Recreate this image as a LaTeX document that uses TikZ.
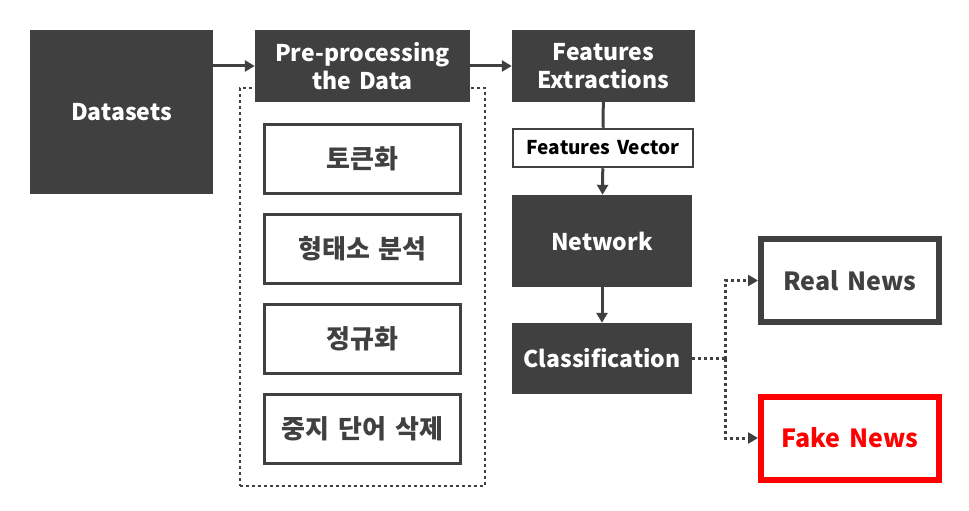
\documentclass[tikz,border=0pt]{standalone}
\usepackage{fontspec}
\setmainfont{Noto Sans CJK KR}[WordSpace=1.5]
\usetikzlibrary{positioning,arrows.meta}
\definecolor{darkgray}{HTML}{404040}
\definecolor{alertred}{HTML}{FF0000}
\begin{document}
\begin{tikzpicture}[
  x=1pt, y=-1pt,
  node distance=18pt,
  darkbox/.style={rectangle, fill=darkgray, text=white, align=center, inner sep=0pt, font=\fontsize{23}{28}\selectfont\bfseries},
  box/.style={rectangle, draw=darkgray, line width=3pt, fill=white, text=darkgray, minimum width=196pt, minimum height=69pt, font=\fontsize{26}{30}\selectfont\bfseries},
  resultbox/.style={rectangle, draw=darkgray, line width=6pt, text=darkgray, minimum width=178pt, minimum height=83pt, font=\fontsize{25}{30}\selectfont\bfseries},
  group/.style={rectangle, draw=darkgray, line width=2.5pt, dash pattern=on 3pt off 3pt},
  arrow/.style={-{Triangle[length=10pt,width=11pt]}, line width=3pt, draw=darkgray},
  dotarrow/.style={arrow, dash pattern=on 3pt off 3pt}
]
  \useasboundingbox (0,0) rectangle (969,511);

  % Prétraitement (cadre)
  \node[group, minimum width=245pt, minimum height=398pt] (prebox) at (362.5,287) {};

  % Données
  \node[darkbox, minimum width=183pt, minimum height=164pt] (data) at (121.5,112) {Datasets};
  \node[darkbox, minimum width=215pt, minimum height=72pt] (pre) at (362.5,66) {Pre-processing\\the Data};
  \node[darkbox, minimum width=183pt, minimum height=72pt] (feat) at (603.5,66) {Features\\Extractions};

  % Étapes
  \node[box] (tok) at (362.5,159) {토큰화};
  \node[box, below=of tok] (morph) {형태소 분석};
  \node[box, below=of morph] (norm) {정규화};
  \node[box, below=of norm] (stop) {중지 단어 삭제};

  % Vecteur
  \node[rectangle, draw=darkgray, line width=2.5pt, minimum width=180pt, minimum height=38pt, inner sep=0pt, font=\fontsize{19}{22}\selectfont\bfseries] (vec) at (603,148) {Features Vector};

  % Réseau
  \node[darkbox, minimum width=180pt, minimum height=92pt] (net) at (602,241) {Network};
  \node[darkbox, minimum width=180pt, minimum height=71pt] (class) at (602,358.5) {Classification};

  % Sortie
  \node[resultbox] (real) at (850,280.5) {Real News};
  \node[resultbox, draw=alertred, text=alertred] (fake) at (850,438) {Fake News};
  \coordinate (split) at (725,358.5);

  % Flèches
  \draw[arrow] (data.east |- pre) -- (pre);
  \draw[arrow] (pre) -- (feat);
  \draw[line width=3pt, draw=darkgray] (feat) -- (vec);
  \draw[arrow] (vec) -- (net);
  \draw[arrow] (net) -- (class);
  \draw[line width=3pt, draw=darkgray, dash pattern=on 3pt off 3pt] (class) -- (split);
  \draw[dotarrow] (split) |- (real);
  \draw[dotarrow] (split) |- (fake);
\end{tikzpicture}
\end{document}
